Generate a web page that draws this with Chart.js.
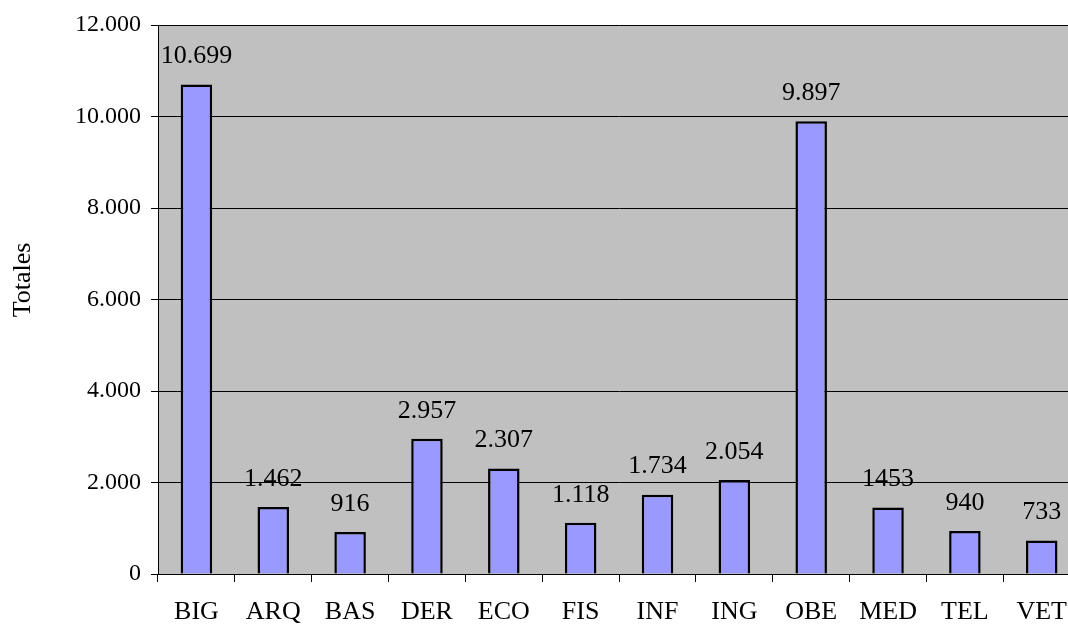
<!DOCTYPE html>
<html>
<head>
<meta charset="utf-8">
<script src="https://cdn.jsdelivr.net/npm/chart.js@4"></script>
<style>
  html, body { margin: 0; padding: 0; background: #fff; overflow: hidden; }
  #wrap { width: 1068px; height: 628px; overflow: hidden; }
</style>
</head>
<body>
<div id="wrap"><canvas id="chart" width="1082" height="628"></canvas></div>
<script>
// data
const categories = ['BIG', 'ARQ', 'BAS', 'DER', 'ECO', 'FIS', 'INF', 'ING', 'OBE', 'MED', 'TEL', 'VET'];
const totals = [10699, 1462, 916, 2957, 2307, 1118, 1734, 2054, 9897, 1453, 940, 733];
const valueLabels = ['10.699', '1.462', '916', '2.957', '2.307', '1.118', '1.734', '2.054', '9.897', '1453', '940', '733'];
const yTicks = [0, 2000, 4000, 6000, 8000, 10000, 12000];
const yTitle = 'Totales';

const serif = '"Liberation Serif", "Times New Roman", serif';

function fmt(n) {
    return String(n).replace(/\B(?=(\d{3})+(?!\d))/g, '.');
}

// gray plot background + y title
const plotBg = {
    id: 'plotBg',
    beforeDraw(chart) {
        const { ctx, chartArea: a } = chart;
        ctx.save();
        ctx.fillStyle = '#C0C0C0';
        ctx.fillRect(a.left, a.top, a.right - a.left, a.bottom - a.top);
        ctx.translate(23, 280);
        ctx.rotate(-Math.PI / 2);
        ctx.font = '26px ' + serif;
        ctx.fillStyle = '#000';
        ctx.textAlign = 'center';
        ctx.textBaseline = 'middle';
        ctx.fillText(yTitle, 0, 0);
        ctx.restore();
    }
};

// numbers above the bars
const barLabels = {
    id: 'barLabels',
    afterDatasetsDraw(chart) {
        const { ctx } = chart;
        const meta = chart.getDatasetMeta(0);
        ctx.save();
        ctx.font = '26px ' + serif;
        ctx.fillStyle = '#000';
        ctx.textAlign = 'center';
        ctx.textBaseline = 'bottom';
        meta.data.forEach((bar, i) => {
            ctx.fillText(valueLabels[i], bar.x, bar.y - 15);
        });
        ctx.restore();
    }
};

new Chart(document.getElementById('chart'), {
    type: 'bar',
    data: {
        labels: categories,
        datasets: [
            {
                label: 'Totales',
                data: totals,
                backgroundColor: '#9999FF',
                borderColor: '#000',
                borderWidth: 2.5,
                barPercentage: 0.41,
                categoryPercentage: 1,
            },
        ],
    },
    options: {
        responsive: false,
        animation: false,
        layout: { padding: { top: 25, right: 0, bottom: 0, left: 0 } },
        plugins: {
            legend: { display: false },
            tooltip: { enabled: false },
        },
        scales: {
            x: {
                offset: true,
                grid: {
                    offset: true,
                    drawOnChartArea: false,
                    drawTicks: true,
                    tickLength: 8,
                    color: '#000',
                },
                border: { color: '#000', width: 1 },
                ticks: {
                    color: '#000',
                    font: { family: serif, size: 26 },
                    padding: 15,
                    maxRotation: 0,
                },
                afterFit(scale) { scale.height = 54; },
            },
            y: {
                min: 0,
                max: 12000,
                afterBuildTicks(scale) { scale.ticks = yTicks.map(v => ({ value: v })); },
                grid: {
                    color: '#000',
                    lineWidth: 1,
                    tickLength: 7,
                },
                border: { color: '#000', width: 1 },
                ticks: {
                    color: '#000',
                    font: { family: serif, size: 24 },
                    padding: 10,
                    callback: v => fmt(v),
                },
                afterFit(scale) { scale.width = 158; },
            },
        },
    },
    plugins: [plotBg, barLabels],
});
</script>
</body>
</html>
